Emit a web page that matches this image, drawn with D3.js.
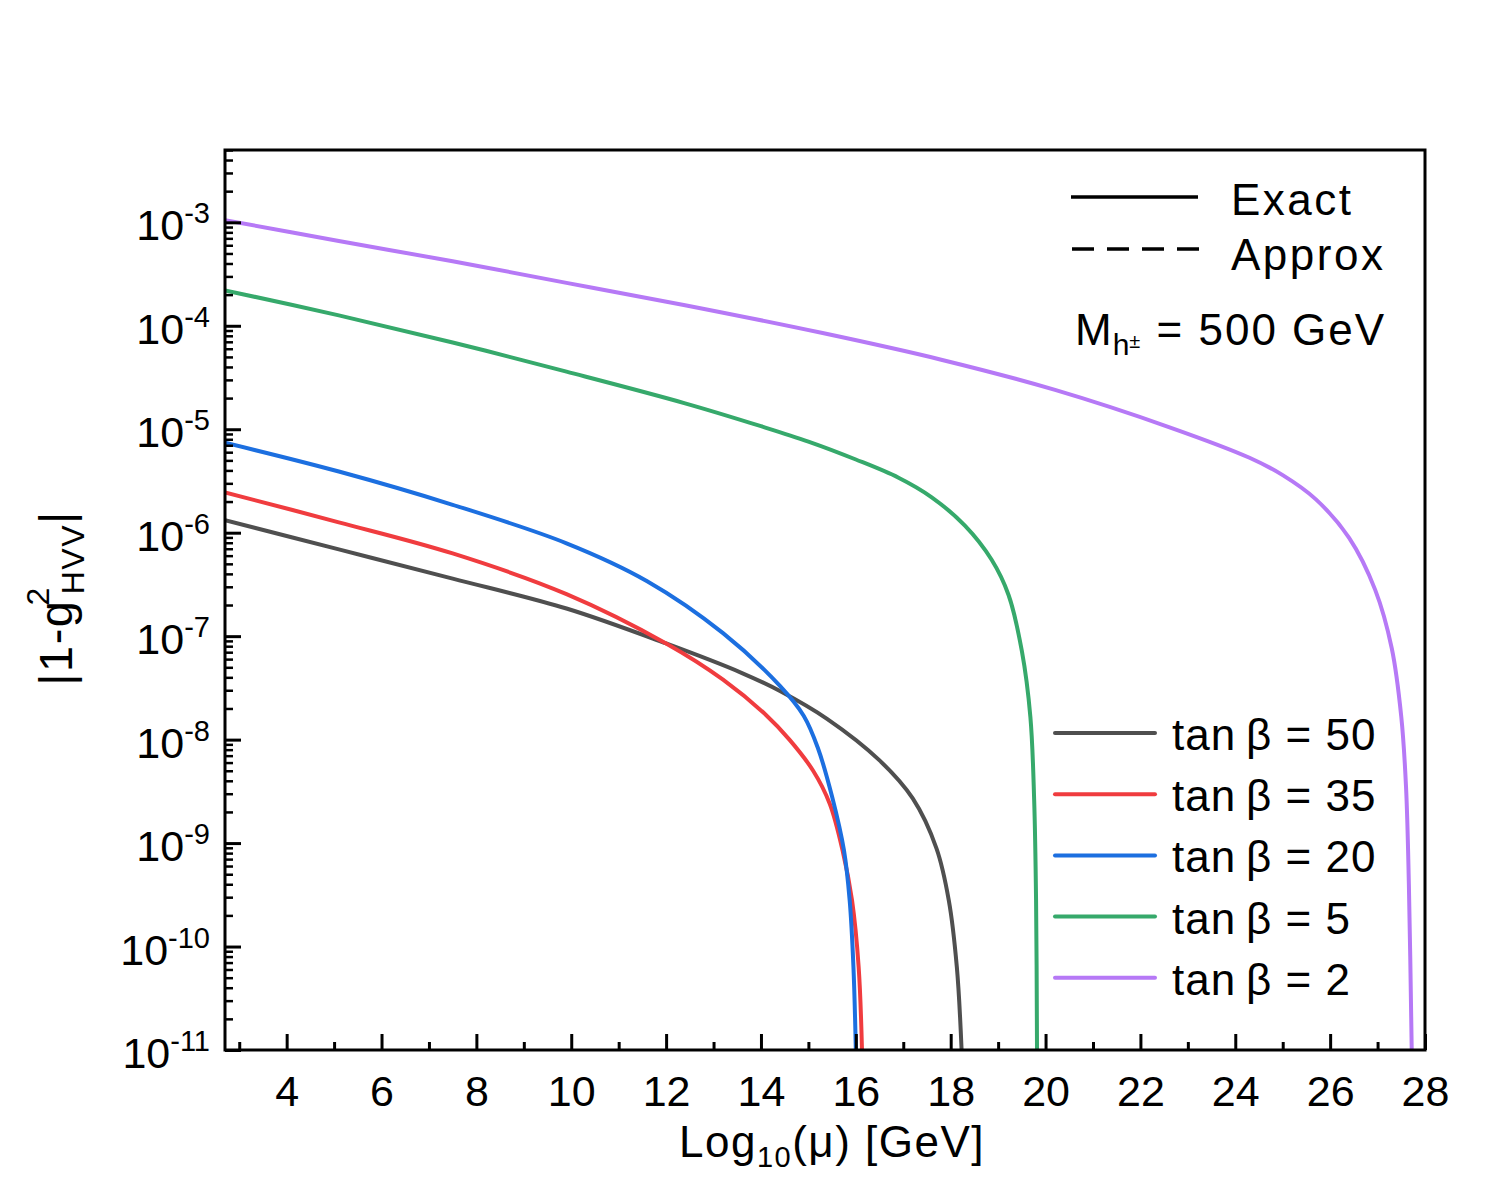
<!DOCTYPE html>
<html>
<head>
<meta charset="utf-8">
<script src="https://cdn.jsdelivr.net/npm/d3@7"></script>
<style>
    body { margin: 0; background: #fff; }
    text { font-family: "Liberation Sans", Arial, sans-serif; fill: #000; }
</style>
</head>
<body>
<svg width="1500" height="1200"></svg>
<script>

// x = Log10(mu), y = |1 - g^2_HVV|
var x50 = [2.7, 5.1, 7.5, 9.9, 12.0, 13.6, 14.4, 15.4, 16.5, 17.2, 17.7, 17.96, 18.13, 18.23];
var y50 = [1.32e-6, 6.9e-7, 3.6e-7, 1.85e-7, 8.5e-8, 4.4e-8, 2.95e-8, 1.58e-8, 6.3e-9, 2.7e-9, 8.9e-10, 2.8e-10, 6.3e-11, 1e-11];

var x35 = [2.7, 5.1, 7.5, 9.9, 12.0, 13.2, 14.1, 14.6, 15.1, 15.45, 15.72, 15.92, 16.06, 16.13];
var y35 = [2.45e-6, 1.26e-6, 6.3e-7, 2.55e-7, 8.5e-8, 3.8e-8, 1.74e-8, 1.0e-8, 5.0e-9, 2.4e-9, 8.5e-10, 2.8e-10, 6.3e-11, 1e-11];

var x20 = [2.7, 5.1, 7.5, 9.9, 11.6, 13.2, 14.4, 14.9, 15.2, 15.5, 15.75, 15.87, 15.95, 16.0];
var y20 = [7.4e-6, 3.9e-6, 1.86e-6, 7.9e-7, 3.4e-7, 1.07e-7, 3.3e-8, 1.7e-8, 8.3e-9, 2.8e-9, 8.5e-10, 2.8e-10, 6.3e-11, 1e-11];

var x5 = [2.7, 5.1, 7.5, 9.9, 12.4, 14.0, 15.0, 16.0, 16.9, 17.6, 18.3, 18.86, 19.22, 19.5, 19.68, 19.76, 19.8, 19.82];
var y5 = [2.2e-4, 1.26e-4, 6.9e-5, 3.6e-5, 1.78e-5, 1.07e-5, 7.6e-6, 5.1e-6, 3.4e-6, 2.2e-6, 1.17e-6, 5.5e-7, 2.5e-7, 7.2e-8, 1.66e-8, 2.6e-9, 2.8e-10, 1e-11];

var x2 = [2.7, 5.1, 7.5, 9.9, 12.4, 15.3, 17.8, 20.2, 22.6, 24.3, 25.0, 25.7, 26.4, 26.95, 27.3, 27.5, 27.6, 27.66, 27.72];
var y2 = [1.05e-3, 6.6e-4, 4.2e-4, 2.6e-4, 1.58e-4, 8.5e-5, 4.7e-5, 2.4e-5, 1.05e-5, 5.3e-6, 3.6e-6, 2.1e-6, 8.9e-7, 2.8e-7, 7.6e-8, 1.66e-8, 3.5e-9, 4.0e-10, 1e-11];

var tanbLabels = ["50", "35", "20", "5", "2"];
var seriesColors = ["#4f4f4f", "#f03c3f", "#1c6fe0", "#36a96b", "#b679f6"];
var xTicks = [4, 6, 8, 10, 12, 14, 16, 18, 20, 22, 24, 26, 28];
var yExponents = [-3, -4, -5, -6, -7, -8, -9, -10, -11];

var series = [
    {name: tanbLabels[0], color: seriesColors[0], xs: x50, ys: y50},
    {name: tanbLabels[1], color: seriesColors[1], xs: x35, ys: y35},
    {name: tanbLabels[2], color: seriesColors[2], xs: x20, ys: y20},
    {name: tanbLabels[3], color: seriesColors[3], xs: x5, ys: y5},
    {name: tanbLabels[4], color: seriesColors[4], xs: x2, ys: y2}
];

var pLeft = 225, pRight = 1425, pTop = 150, pBottom = 1050;

var svg = d3.select("svg");

var x = d3.scaleLinear().domain([2.7, 28]).range([pLeft, pRight]);
var y = d3.scaleLog().domain([1e-11, 5e-3]).range([pBottom, pTop]);

svg.append("defs").append("clipPath").attr("id", "plot")
    .append("rect")
    .attr("x", pLeft).attr("y", pTop)
    .attr("width", pRight - pLeft).attr("height", pBottom - pTop);

// curves
var line = d3.line()
    .x(function (d) { return x(d[0]); })
    .y(function (d) { return y(d[1]); })
    .curve(d3.curveCatmullRom.alpha(0.5));

svg.append("g").attr("clip-path", "url(#plot)")
    .selectAll("path")
    .data(series)
    .enter().append("path")
    .attr("fill", "none")
    .attr("stroke", function (d) { return d.color; })
    .attr("stroke-width", 4)
    .attr("d", function (d) {
        return line(d.xs.map(function (v, i) { return [v, d.ys[i]]; }));
    });

// x axis, ticks pointing inward
var minorX = d3.range(3, 28, 2);
svg.append("g")
    .attr("transform", "translate(0," + pBottom + ")")
    .call(d3.axisBottom(x).tickValues(minorX).tickSize(-8).tickFormat(""))
    .call(function (g) { g.select(".domain").remove(); })
    .selectAll("line").attr("stroke-width", 3);

var xAxis = svg.append("g")
    .attr("transform", "translate(0," + pBottom + ")")
    .call(d3.axisBottom(x).tickValues(xTicks).tickSize(-16).tickPadding(25));
xAxis.select(".domain").remove();
xAxis.selectAll("line").attr("stroke-width", 3);
xAxis.selectAll("text")
    .attr("font-size", 43)
    .attr("font-family", "Liberation Sans, Arial, sans-serif")
    .attr("fill", "#000")
    .attr("dy", "0.71em");

// y axis, log ticks pointing inward
var minorY = [];
d3.range(-11, -2).forEach(function (e) {
    d3.range(2, 10).forEach(function (m) {
        var v = m * Math.pow(10, e);
        if (v <= 5.01e-3) minorY.push(v);
    });
});

svg.append("g")
    .attr("transform", "translate(" + pLeft + ",0)")
    .call(d3.axisLeft(y).tickValues(minorY).tickSize(-8).tickFormat(""))
    .call(function (g) { g.select(".domain").remove(); })
    .selectAll("line").attr("stroke-width", 2.5);

var majorY = yExponents.map(function (e) { return Math.pow(10, e); });
svg.append("g")
    .attr("transform", "translate(" + pLeft + ",0)")
    .call(d3.axisLeft(y).tickValues(majorY).tickSize(-16).tickFormat(""))
    .call(function (g) { g.select(".domain").remove(); })
    .selectAll("line").attr("stroke-width", 3);

var yLab = svg.append("g").selectAll("text")
    .data(yExponents)
    .enter().append("text")
    .attr("x", 210)
    .attr("y", function (e) { return y(Math.pow(10, e)) + 18; })
    .attr("text-anchor", "end")
    .attr("font-size", 43);
yLab.append("tspan").text("10");
yLab.append("tspan")
    .attr("font-size", 29)
    .attr("dy", -17)
    .text(function (e) { return "-" + Math.abs(e); });

// frame
svg.append("rect")
    .attr("x", pLeft).attr("y", pTop)
    .attr("width", pRight - pLeft).attr("height", pBottom - pTop)
    .attr("fill", "none")
    .attr("stroke", "#000")
    .attr("stroke-width", 3);

// axis titles
var xt = svg.append("text")
    .attr("x", 832).attr("y", 1157)
    .attr("text-anchor", "middle")
    .attr("font-size", 44)
    .attr("letter-spacing", 1.5);
xt.append("tspan").text("Log");
xt.append("tspan").attr("font-size", 29).attr("dy", 10).text("10");
xt.append("tspan").attr("dy", -10).text("(\u03bc) [GeV]");

var yt = svg.append("text")
    .attr("transform", "translate(72,598) rotate(-90)")
    .attr("text-anchor", "middle")
    .attr("font-size", 47)
    .attr("letter-spacing", 1.5);
yt.append("tspan").text("|1-g");
yt.append("tspan").attr("font-size", 32).attr("dx", -6).attr("dy", -23).text("2");
yt.append("tspan").attr("font-size", 32).attr("dx", -8).attr("dy", 35).text("HVV");
yt.append("tspan").attr("dy", -12).text("|");

// style legend
svg.append("line")
    .attr("x1", 1071).attr("x2", 1198).attr("y1", 197).attr("y2", 197)
    .attr("stroke", "#000").attr("stroke-width", 3.5);
svg.append("line")
    .attr("x1", 1072).attr("x2", 1200).attr("y1", 249).attr("y2", 249)
    .attr("stroke", "#000").attr("stroke-width", 3.5)
    .attr("stroke-dasharray", "22,13");
svg.append("text").attr("x", 1231).attr("y", 215)
    .attr("font-size", 44).attr("letter-spacing", 2.5).text("Exact");
svg.append("text").attr("x", 1231).attr("y", 270)
    .attr("font-size", 44).attr("letter-spacing", 2.5).text("Approx");

var mt = svg.append("text").attr("x", 1075).attr("y", 345)
    .attr("font-size", 44).attr("letter-spacing", 2);
mt.append("tspan").text("M");
mt.append("tspan").attr("font-size", 30).attr("dx", -1).attr("dy", 10).text("h");
mt.append("tspan").attr("font-size", 20).attr("dx", -2).attr("dy", -7).text("\u00b1");
mt.append("tspan").attr("dy", -3).text(" = 500 GeV");

// tan beta legend
var leg = svg.append("g").selectAll("g")
    .data(series)
    .enter().append("g")
    .attr("transform", function (d, i) { return "translate(0," + (733 + i * 61.2) + ")"; });

leg.append("line")
    .attr("x1", 1055).attr("x2", 1155)
    .attr("stroke", function (d) { return d.color; })
    .attr("stroke-width", 4)
    .attr("stroke-linecap", "round");

leg.append("text")
    .attr("x", 1172).attr("y", 17)
    .attr("font-size", 44)
    .attr("letter-spacing", 1)
    .text(function (d) { return "tan\u2009\u03b2 = " + d.name; });

</script>
</body>
</html>
